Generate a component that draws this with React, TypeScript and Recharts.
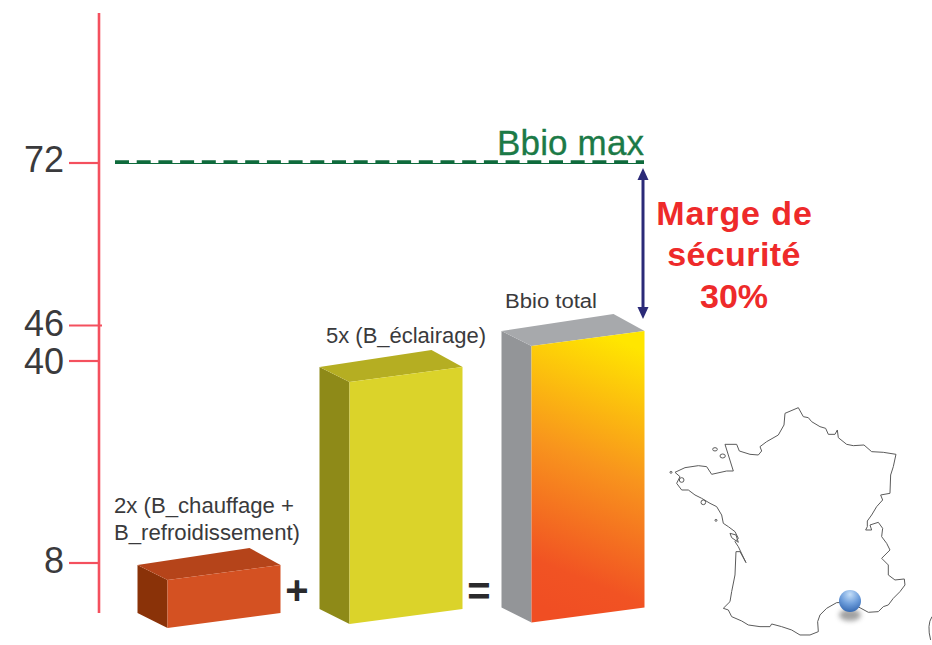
import { Bar, BarChart, ReferenceLine, XAxis, YAxis } from 'recharts'

const categories = ['2x (B_chauffage + B_refroidissement)', '5x (B_éclairage)', 'Bbio total']
const barValues = [8, 40, 46]
const axisTicks = [8, 40, 46, 72]
const bbioMax = 72

const chartData = categories.map((category, i) => ({ category, value: barValues[i] }))

const WIDTH = 932
const HEIGHT = 645
const AXIS_X = 99
const FONT = '"Liberation Sans", Arial, sans-serif'
const AXIS_RED = '#f4505e'
const INK = '#3a3a3c'

// The printed ticks sit a little off a strict linear spacing
const tickMarkNudge: Record<number, number> = { 40: -2 }
const tickLabelBaseline: Record<number, number> = { 8: 10, 40: 13, 46: 10, 72: 9 }

const faces = [
  { front: '#d45122', top: '#b5441a', side: '#8a3208', topShift: 2, footShift: 0 },
  { front: '#dbd32a', top: '#b5ae22', side: '#8e8a18', topShift: 4, footShift: -4 },
  { front: 'url(#totalFront)', top: '#a7a9ac', side: '#939598', topShift: 5.5, footShift: -5.5 },
]

const pts = (list: number[][]) => list.map((p) => p.join(',')).join(' ')

// Box drawn in oblique projection from the rectangle the value scale gives
function Box3D(props: any) {
  const { x, y, width, height, index } = props
  const face = faces[index]
  const top = y + face.topShift
  const foot = y + height + face.footShift
  const right = x + width
  return (
    <g>
      <polygon points={pts([[x, top], [x + 30, top + 15], [x + 30, foot + 15], [x, foot]])} fill={face.side} />
      <polygon points={pts([[x, top], [x + 112, top - 17], [right, top], [x + 30, top + 15]])} fill={face.top} />
      <polygon points={pts([[x + 30, top + 15], [right, top], [right, foot], [x + 30, foot + 15]])} fill={face.front} />
    </g>
  )
}

function AxisTick({ y, payload }: any) {
  const value = payload.value as number
  const markY = y + (tickMarkNudge[value] ?? 0)
  return (
    <g>
      <line x1={69} x2={value === 46 ? 102 : AXIS_X} y1={markY} y2={markY} stroke={AXIS_RED} strokeWidth={2.2} />
      <text x={64} y={markY + tickLabelBaseline[value]} textAnchor="end" fontFamily={FONT} fontSize={36} fill={INK}>
        {value}
      </text>
    </g>
  )
}

function MaxLine({ y1 }: any) {
  return (
    <g stroke="#0f6b3c">
      <line x1={115} x2={644} y1={y1 + 0.5} y2={y1 + 0.5} strokeWidth={1.2} />
      <line x1={115} x2={644} y1={y1 - 1} y2={y1 - 1} strokeWidth={3.4} strokeDasharray="14 7.7" />
    </g>
  )
}

function MarginArrow() {
  const navy = '#2b2a78'
  return (
    <g>
      <line x1={643} x2={643} y1={175} y2={312} stroke={navy} strokeWidth={3} />
      <polygon points="643,168 637.5,180 648.5,180" fill={navy} />
      <polygon points="643,319 637.5,307 648.5,307" fill={navy} />
    </g>
  )
}

function Captions() {
  const small = { fontFamily: FONT, fontSize: 21.5, fill: INK, lengthAdjust: 'spacingAndGlyphs' as const }
  const red = { fontFamily: FONT, fontSize: 34, fontWeight: 700, fill: '#ee2a2a', textAnchor: 'middle' as const }
  return (
    <g>
      <text x={497} y={155} fontFamily={FONT} fontSize={35} fill="#1c7a47" stroke="#1c7a47" strokeWidth={0.3} textLength={147}>Bbio max</text>
      <text x={734.5} y={225} {...red} letterSpacing={0.9}>Marge de</text>
      <text x={734} y={266} {...red} letterSpacing={0.4}>sécurité</text>
      <text x={734} y={308} {...red}>30%</text>
      <text x={114} y={513} {...small} textLength={180}>2x (B_chauffage +</text>
      <text x={114} y={540} {...small} textLength={186}>B_refroidissement)</text>
      <text x={326} y={343} {...small} textLength={160}>5x (B_éclairage)</text>
      <text x={505} y={308} {...small} fontSize={19.5} textLength={92}>Bbio total</text>
      <text x={297} y={604} textAnchor="middle" fontFamily={FONT} fontSize={40} fontWeight={700} fill="#2a2a2c">+</text>
      <text x={479} y={605} textAnchor="middle" fontFamily={FONT} fontSize={40} fontWeight={700} fill="#2a2a2c">=</text>
    </g>
  )
}

const FRANCE_OUTLINE =
  'M415,38 L430,65 445,68 455,80 480,95 497,100 505,118 525,118 532,105 535,128 560,148 580,152 612,150 635,170 670,172 708,178 700,215 692,240 690,295 662,300 668,315 650,335 635,360 622,378 622,395 617,405 635,405 630,390 655,382 668,400 665,425 680,445 690,465 665,490 685,510 685,540 705,555 733,552 735,570 720,590 700,610 685,630 670,635 655,650 625,652 603,640 570,622 530,623 500,640 480,660 473,680 475,710 450,720 420,720 395,705 365,695 335,687 330,695 300,695 265,690 245,678 215,665 205,645 190,640 210,620 215,590 225,540 228,470 240,470 258,503 235,455 225,440 235,430 225,410 205,395 190,385 185,360 170,335 150,325 125,310 105,300 85,285 65,285 50,265 60,245 45,232 75,218 115,212 140,215 155,238 200,228 220,228 205,180 195,148 230,148 238,168 270,178 295,180 305,168 300,155 320,140 355,120 372,90 375,55 Z'

function LocatorMap() {
  return (
    <g>
      <g transform="translate(660 395) scale(0.3333)" fill="none" stroke="#5a5a5a" strokeWidth={3}>
        <path d={FRANCE_OUTLINE} fill="#ffffff" strokeLinejoin="round" />
        <ellipse cx={188} cy={183} rx={8} ry={6} />
        <ellipse cx={165} cy={163} rx={7} ry={5} />
        <circle cx={33} cy={232} r={3} />
        <circle cx={65} cy={255} r={7} />
        <circle cx={130} cy={322} r={7} />
        <circle cx={168} cy={376} r={3} />
        <path d="M210,415 L228,420 235,442 215,428 Z" />
        <path d="M816,665 Q800,690 812,735" />
      </g>
      <ellipse cx={850} cy={615} rx={11} ry={6} fill="#555" opacity={0.55} filter="url(#ballShadow)" />
      <circle cx={850} cy={601} r={11} fill="url(#ball)" />
    </g>
  )
}

export default function App() {
  return (
    <div style={{ position: 'absolute', left: 0, top: 0, width: WIDTH, height: HEIGHT, background: '#fff' }}>
      <BarChart
        width={WIDTH}
        height={HEIGHT}
        data={chartData}
        margin={{ top: 13, right: WIDTH - 663.5, bottom: 32, left: 0 }}
        barSize={143}
      >
        <defs>
          <linearGradient id="totalFront" x1="0.58" y1="0" x2="0.42" y2="1">
            <stop offset="0" stopColor="#ffe600" />
            <stop offset="0.45" stopColor="#f8941d" />
            <stop offset="0.85" stopColor="#f15323" />
            <stop offset="1" stopColor="#f04e23" />
          </linearGradient>
          <radialGradient id="ball" cx="0.5" cy="0.2" r="0.85">
            <stop offset="0" stopColor="#c4def8" />
            <stop offset="0.5" stopColor="#6f9fdc" />
            <stop offset="1" stopColor="#2f63ad" />
          </radialGradient>
          <filter id="ballShadow" x="-50%" y="-50%" width="200%" height="200%">
            <feGaussianBlur stdDeviation="2.5" />
          </filter>
        </defs>
        <XAxis dataKey="category" hide padding={{ left: 18.5, right: 0 }} />
        <YAxis
          width={AXIS_X}
          domain={[0, 96]}
          ticks={axisTicks}
          interval={0}
          tickLine={false}
          tick={<AxisTick />}
          axisLine={{ stroke: AXIS_RED, strokeWidth: 2.6 }}
        />
        <Bar dataKey="value" shape={<Box3D />} isAnimationActive={false} />
        <ReferenceLine y={bbioMax} shape={<MaxLine />} />
        <MarginArrow />
        <Captions />
        <LocatorMap />
      </BarChart>
    </div>
  )
}
